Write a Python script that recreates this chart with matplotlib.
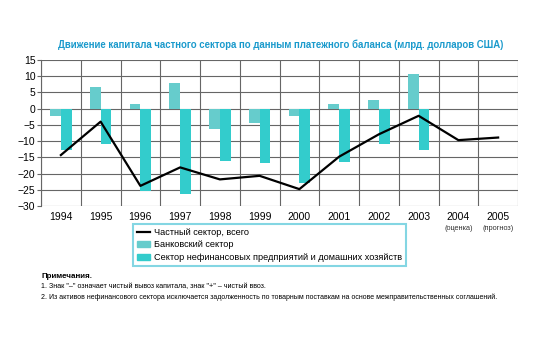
import matplotlib
matplotlib.use("Agg")
import matplotlib.pyplot as plt
import numpy as np
from matplotlib.lines import Line2D
from matplotlib.patches import Patch

plt.rcParams['font.family'] = ['Liberation Sans', 'DejaVu Sans']

years = ['1994', '1995', '1996', '1997', '1998', '1999', '2000', '2001', '2002', '2003', '2004', '2005']
sublabels = ['', '', '', '', '', '', '', '', '', '', '(оценка)', '(прогноз)']
private_total = [-14.3, -4.0, -23.8, -18.1, -21.8, -20.7, -24.8, -14.8, -7.9, -2.2, -9.7, -8.9]
bank = [-2.2, 6.8, 1.4, 7.8, -6.2, -4.5, -2.3, 1.4, 2.7, 10.6, np.nan, np.nan]
nonfin = [-12.6, -10.9, -25.4, -26.2, -16.0, -16.9, -22.9, -16.4, -10.9, -12.8, np.nan, np.nan]

title = 'Движение капитала частного сектора по данным платежного баланса (млрд. долларов США)'
leg_labels = ['Частный сектор, всего', 'Банковский сектор', 'Сектор нефинансовых предприятий и домашних хозяйств']
notes_head = 'Примечания.'
notes = ['1. Знак "–" означает чистый вывоз капитала, знак "+" – чистый ввоз.',
         '2. Из активов нефинансового сектора исключается задолженность по товарным поставкам на основе межправительственных соглашений.']

c_bank = '#66CCCC'
c_nonfin = '#33CCCC'

fig = plt.figure(figsize=(5.39, 3.40), dpi=100)
ax = fig.add_axes([41/539, 1-206/340, 477/539, 146/340])

x = np.arange(len(years))
w = 0.27
ax.bar(x - w/2, bank, width=w, color=c_bank, zorder=2)
ax.bar(x + w/2, nonfin, width=w, color=c_nonfin, zorder=2)
ax.plot(x, private_total, color='black', lw=1.6, zorder=3)

ax.set_xlim(-0.5, len(years) - 0.5)
ax.set_ylim(-30, 15)
ax.set_yticks(np.arange(-30, 16, 5))
ax.set_xticks(x)
ax.set_xticklabels(years)
ax.set_xticks(np.arange(-0.5, len(years), 1), minor=True)
ax.grid(True, which='minor', axis='x', color='#666666', lw=0.8, zorder=1)
ax.grid(True, which='major', axis='y', color='#666666', lw=0.8, zorder=1)
ax.set_axisbelow(True)
ax.tick_params(axis='x', which='both', length=0, labelsize=7.5, pad=4)
ax.tick_params(axis='y', length=3, width=0.8, color='#666666', labelsize=7.5, pad=1)
for s in ['top', 'right', 'bottom']:
    ax.spines[s].set_visible(False)
ax.spines['left'].set_color('#666666')
ax.spines['left'].set_linewidth(0.8)

for i, s in enumerate(sublabels):
    if s:
        ax.text(i, -0.13, s, transform=ax.get_xaxis_transform(), ha='center', va='top', fontsize=5.3, color='#333333')

fig.text(281/539, 1-45/340, title, ha='center', va='center', fontsize=6.9, fontweight='bold', color='#1a9acc')

handles = [Line2D([0], [0], color='black', lw=1.6),
           Patch(color=c_bank), Patch(color=c_nonfin)]
leg = fig.legend(handles, leg_labels, loc='upper left', bbox_to_anchor=(133/539, 1-224/340),
                 fontsize=6.6, frameon=True, fancybox=False, handlelength=1.5, handleheight=0.6,
                 handletextpad=0.4, labelspacing=0.4, borderpad=0.4, borderaxespad=0)
leg.get_frame().set_edgecolor('#66CCDD')
leg.get_frame().set_linewidth(1.5)

fig.text(41/539, 1-277/340, notes_head, ha='left', va='center', fontsize=5.8, fontweight='bold')
fig.text(41/539, 1-287/340, notes[0], ha='left', va='center', fontsize=5.1)
fig.text(41/539, 1-297/340, notes[1], ha='left', va='center', fontsize=5.05)

fig.savefig('out.png', dpi=100)
